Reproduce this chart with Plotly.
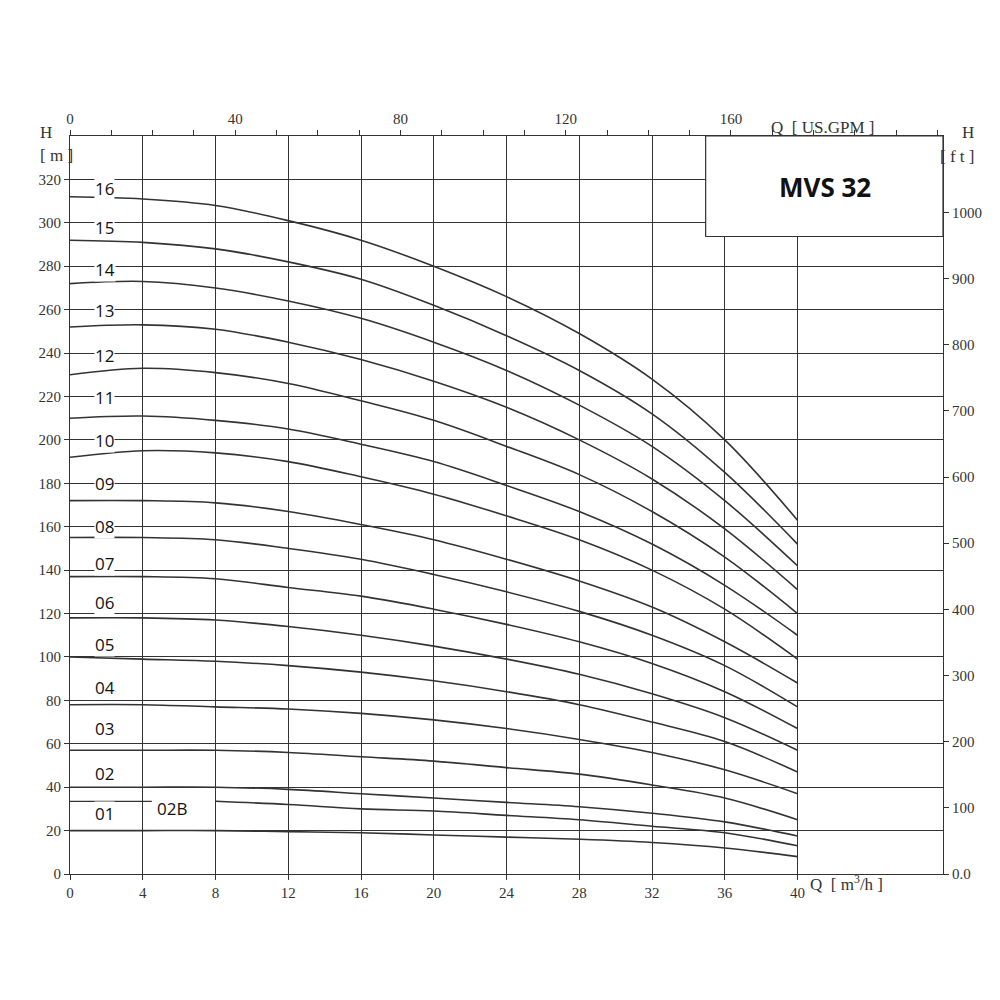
import plotly.graph_objects as go

# flow points, m3/h
q = [0, 4, 8, 12, 16, 20, 24, 28, 32, 36, 40]
q_02b = [8, 12, 16, 20, 24, 28, 32, 36, 40]

curves = {
    "16": [312, 311, 308, 301, 292, 280, 266, 249, 228, 200, 163],
    "15": [292, 291, 288, 282, 274, 262, 248, 232, 212, 185, 152],
    "14": [272, 273, 270, 264, 256, 245, 232, 216, 197, 172, 142],
    "13": [252, 253, 251, 245, 237, 227, 215, 200, 182, 159, 131],
    "12": [230, 233, 231, 226, 218, 209, 197, 184, 167, 146, 120],
    "11": [210, 211, 209, 205, 198, 190, 179, 167, 152, 133, 110],
    "10": [192, 195, 194, 190, 183, 175, 165, 154, 140, 122, 99],
    "09": [172, 172, 171, 167, 161, 154, 145, 135, 123, 107, 88],
    "08": [155, 155, 154, 150, 145, 138, 130, 121, 110, 96, 77],
    "07": [137, 137, 136, 132, 128, 122, 115, 107, 97, 84, 67],
    "06": [118, 118, 117, 114, 110, 105, 99, 92, 83, 72, 57],
    "05": [100, 99, 98, 96, 93, 89, 84, 78, 70, 61, 47],
    "04": [78, 78, 77, 76, 74, 71, 67, 62, 56, 48, 37],
    "03": [57, 57, 57, 56, 54, 52, 49, 46, 41, 35, 25],
    "02": [40, 40, 40, 39, 37, 35, 33, 31, 28, 24, 17.5],
    "01": [20, 20, 20, 19.5, 19, 18, 17, 16, 14.5, 12, 8],
}
h_02b = [33.5, 32, 30, 29, 27, 25, 22, 19, 13]

label_y = {"16": 316, "15": 298, "14": 278.5, "13": 259.6, "12": 239, "11": 219.5,
           "10": 199.6, "09": 180, "08": 160, "07": 143, "06": 125, "05": 105.6,
           "04": 86, "03": 67, "02": 46.5, "01": 27.7}

ink = "#333333"
serif = "Liberation Serif"
sans = "Open Sans"

fig = go.Figure()
for name, h in curves.items():
    fig.add_trace(go.Scatter(x=q, y=h, mode="lines", line=dict(color=ink, width=1.6, shape="spline"),
                             showlegend=False, hoverinfo="skip"))
fig.add_trace(go.Scatter(x=q_02b, y=h_02b, mode="lines", line=dict(color=ink, width=1.6, shape="spline"),
                         showlegend=False, hoverinfo="skip"))
# leader for 02B
fig.add_trace(go.Scatter(x=[0, 4.5], y=[33.5, 33.5], mode="lines", line=dict(color=ink, width=1.2),
                         showlegend=False, hoverinfo="skip"))
# dummy trace for secondary axes
fig.add_trace(go.Scatter(x=[0], y=[0], xaxis="x2", yaxis="y2", mode="markers",
                         marker=dict(opacity=0), showlegend=False, hoverinfo="skip"))

for name, y in label_y.items():
    fig.add_annotation(x=1.9, y=y, text=name, showarrow=False, bgcolor="white",
                       font=dict(family=sans, size=17, color="#111"), borderpad=0)
fig.add_annotation(x=5.6, y=30.4, text="02B", showarrow=False, bgcolor="white",
                   font=dict(family=sans, size=17, color="#111"), borderpad=0)

fig.add_shape(type="rect", x0=34.95, x1=48, y0=293.7, y1=340, xref="x", yref="y",
              fillcolor="white", line=dict(color=ink, width=1.2), layer="above")
fig.add_annotation(x=41.5, y=316.5, text="<b>MVS 32</b>", showarrow=False,
                   font=dict(family=sans, size=26, color="#111"))

# axis titles, placed by page pixels (plot area 62..935 x 128..866)
def px(x):
    return (x - 62) / 873

def py(y):
    return (866 - y) / 738

for x, y, t in [(30, 113, "H"), (30, 136, "[ m ]"), (968, 113, "H"), (968, 137, "[ f t ]"),
                (868, 108, "Q  [ US.GPM ]"), (877, 888, "Q  [ m<sup>3</sup>/h ]")]:
    fig.add_annotation(x=px(x), y=py(y), xref="paper", yref="paper", text=t,
                       showarrow=False, font=dict(family=serif, size=17, color=ink))

axis_common = dict(showline=True, linecolor=ink, linewidth=1.2, zeroline=False, automargin=False,
                   tickfont=dict(family=serif, size=15, color=ink), ticks="outside",
                   ticklen=5, tickcolor=ink)

fig.update_layout(
    width=1000, height=1000, plot_bgcolor="white", paper_bgcolor="white",
    margin=dict(l=62, r=65, t=128, b=134, autoexpand=False),
    xaxis=dict(range=[0, 48], tickvals=list(range(0, 41, 4)), showgrid=True,
               gridcolor=ink, gridwidth=1, **axis_common),
    yaxis=dict(range=[0, 340], tickvals=list(range(0, 321, 20)), showgrid=True,
               gridcolor=ink, gridwidth=1, **axis_common),
    xaxis2=dict(range=[0, 48 * 4.4029], overlaying="x", side="top", anchor="y",
                tickvals=[0, 40, 80, 120, 160], showgrid=False,
                minor=dict(dtick=10, ticks="outside", ticklen=5, tickcolor=ink),
                **axis_common),
    yaxis2=dict(range=[0, 340 * 3.2808], overlaying="y", side="right", anchor="x",
                tickvals=list(range(0, 1001, 100)),
                ticktext=["0.0"] + [str(v) for v in range(100, 1001, 100)],
                showgrid=False, **axis_common),
)
fig.write_html("out.html")
